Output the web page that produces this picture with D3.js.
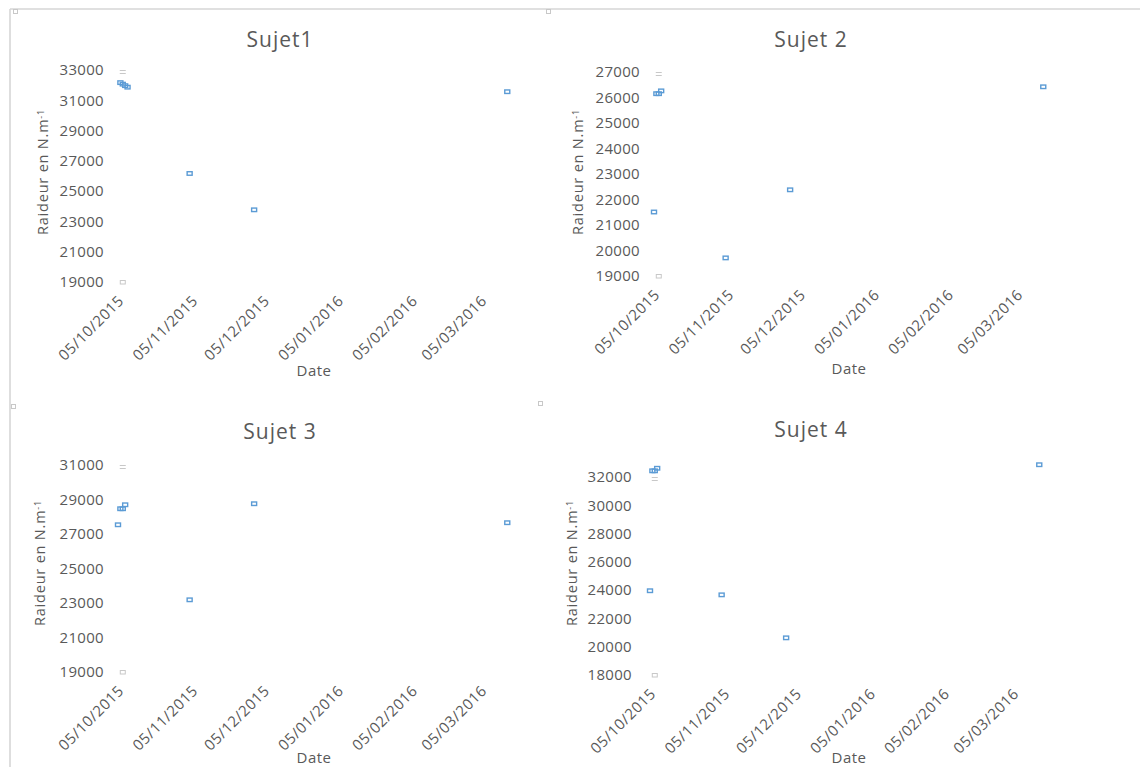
<!DOCTYPE html>
<html>
<head>
<meta charset="utf-8">
<script src="https://cdn.jsdelivr.net/npm/d3@7"></script>
<style>
  body { margin: 0; background: #fff; }
  svg { display: block; }
  text { font-family: "Open Sans", sans-serif; fill: #595959; }
</style>
</head>
<body>
<svg id="chart" width="1140" height="767"></svg>
<script>
// date axis tick labels (dd/mm/yyyy)
var tickDates = ["05/10/2015", "05/11/2015", "05/12/2015", "05/01/2016", "05/02/2016", "05/03/2016"];
var titles = ["Sujet1", "Sujet 2", "Sujet 3", "Sujet 4"];

// Sujet 1
var dates1 = ["06/10/2015", "07/10/2015", "08/10/2015", "09/10/2015", "04/11/2015", "01/12/2015", "16/03/2016"];
var values1 = [32150, 32050, 31950, 31850, 26150, 23750, 31550];
var yTicks1 = [19000, 21000, 23000, 25000, 27000, 29000, 31000, 33000];

// Sujet 2
var dates2 = ["05/10/2015", "06/10/2015", "07/10/2015", "08/10/2015", "04/11/2015", "01/12/2015", "16/03/2016"];
var values2 = [21500, 26140, 26140, 26250, 19700, 22370, 26410];
var yTicks2 = [19000, 20000, 21000, 22000, 23000, 24000, 25000, 26000, 27000];

// Sujet 3
var dates3 = ["05/10/2015", "06/10/2015", "07/10/2015", "08/10/2015", "04/11/2015", "01/12/2015", "16/03/2016"];
var values3 = [27520, 28450, 28450, 28680, 23170, 28740, 27640];
var yTicks3 = [19000, 21000, 23000, 25000, 27000, 29000, 31000];

// Sujet 4
var dates4 = ["05/10/2015", "06/10/2015", "07/10/2015", "08/10/2015", "04/11/2015", "01/12/2015", "16/03/2016"];
var values4 = [23940, 32420, 32420, 32600, 23650, 20610, 32850];
var yTicks4 = [18000, 20000, 22000, 24000, 26000, 28000, 30000, 32000];

var parseDate = d3.timeParse("%d/%m/%Y");
var blue = "#5B9BD5";

var svg = d3.select("#chart");

// frame of the sheet
svg.append("line").attr("x1", 10).attr("x2", 1140).attr("y1", 9).attr("y2", 9)
  .attr("stroke", "#d6d6d6").attr("stroke-width", 1.6);
svg.append("line").attr("x1", 10).attr("x2", 10).attr("y1", 9).attr("y2", 767)
  .attr("stroke", "#d6d6d6").attr("stroke-width", 1.6);
[[13, 9], [546, 9], [11, 404], [538, 401]].forEach(function(p) {
  svg.append("rect").attr("x", p[0] + 0.5).attr("y", p[1] + 0.5).attr("width", 4).attr("height", 4)
    .attr("fill", "#fff").attr("stroke", "#c8c8c8").attr("stroke-width", 1);
});

var panels = [
  {title: titles[0], dates: dates1, values: values1, yTicks: yTicks1,
   x0: 118, yBottom: 282, yTop: 70, labelX: 104, axisTitleX: 48, axisTitleY: 172,
   titleX: 280, titleY: 47, dateX: 314, dateY: 371},
  {title: titles[1], dates: dates2, values: values2, yTicks: yTicks2,
   x0: 654, yBottom: 276, yTop: 72, labelX: 640, axisTitleX: 583, axisTitleY: 172,
   titleX: 811, titleY: 47, dateX: 849, dateY: 369},
  {title: titles[2], dates: dates3, values: values3, yTicks: yTicks3,
   x0: 118, yBottom: 672, yTop: 465, labelX: 104, axisTitleX: 45, axisTitleY: 563,
   titleX: 280, titleY: 439, dateX: 314, dateY: 758},
  {title: titles[3], dates: dates4, values: values4, yTicks: yTicks4,
   x0: 650, yBottom: 675, yTop: 477, labelX: 632, axisTitleX: 577, axisTitleY: 563,
   titleX: 811, titleY: 437, dateX: 849, dateY: 758}
];

panels.forEach(drawPanel);

function drawPanel(p) {
  var g = svg.append("g");
  var tickVals = tickDates.map(parseDate);

  // same day-per-pixel scale for all four charts
  var x = d3.scaleTime()
    .domain([tickVals[0], tickVals[tickVals.length - 1]])
    .range([p.x0, p.x0 + 363]);
  var y = d3.scaleLinear()
    .domain([d3.min(p.yTicks), d3.max(p.yTicks)])
    .range([p.yBottom, p.yTop]);

  g.append("text").attr("x", p.titleX).attr("y", p.titleY)
    .attr("text-anchor", "middle").style("font-size", "21px").style("letter-spacing", "1px")
    .text(p.title);

  // value axis labels
  g.selectAll(".ytick").data(p.yTicks).enter().append("text")
    .attr("class", "ytick")
    .attr("x", p.labelX).attr("y", function(d) { return y(d); })
    .attr("dy", "0.35em").attr("text-anchor", "end")
    .style("font-size", "15px").style("letter-spacing", "0.3px")
    .text(function(d) { return d; });

  // date axis labels, rotated
  g.selectAll(".xtick").data(tickVals).enter().append("text")
    .attr("class", "xtick")
    .attr("transform", function(d) {
      return "translate(" + (x(d) + 3) + "," + (p.yBottom + 16) + ") rotate(-45)";
    })
    .attr("dy", "0.35em").attr("text-anchor", "end")
    .style("font-size", "15px").style("letter-spacing", "0.5px")
    .text(d3.timeFormat("%d/%m/%Y"));

  var yt = g.append("text")
    .attr("transform", "translate(" + p.axisTitleX + "," + p.axisTitleY + ") rotate(-90)")
    .attr("text-anchor", "middle").style("font-size", "14.5px").style("letter-spacing", "0.8px");
  yt.append("tspan").text("Raideur en N.m");
  yt.append("tspan").attr("dy", "-0.45em").style("font-size", "9px").text("-1");

  g.append("text").attr("x", p.dateX).attr("y", p.dateY)
    .attr("dy", "0.35em").attr("text-anchor", "middle").style("font-size", "15px")
    .style("letter-spacing", "0.5px")
    .text("Date");

  // faint grey marks at the top and bottom of the value axis
  var ax = x(parseDate("07/10/2015"));
  var top = y(d3.max(p.yTicks)), bot = y(d3.min(p.yTicks));
  g.append("line").attr("x1", ax - 3).attr("x2", ax + 3).attr("y1", top + 0.5).attr("y2", top + 0.5)
    .attr("stroke", "#c8c8c8").attr("stroke-width", 1);
  g.append("line").attr("x1", ax - 3).attr("x2", ax + 3).attr("y1", top + 3.5).attr("y2", top + 3.5)
    .attr("stroke", "#c8c8c8").attr("stroke-width", 1);
  g.append("rect").attr("x", ax - 2.5).attr("y", bot - 1.5).attr("width", 5).attr("height", 3.5)
    .attr("fill", "none").attr("stroke", "#c8c8c8").attr("stroke-width", 1);

  // measurements
  var pts = p.dates.map(function(d, i) { return {date: parseDate(d), value: p.values[i]}; });
  g.selectAll(".pt").data(pts).enter().append("rect")
    .attr("class", "pt")
    .attr("x", function(d) { return x(d.date) - 2.5; })
    .attr("y", function(d) { return y(d.value) - 2; })
    .attr("width", 5).attr("height", 3.5)
    .attr("fill", "none").attr("stroke", blue).attr("stroke-width", 1.4);
}
</script>
</body>
</html>
